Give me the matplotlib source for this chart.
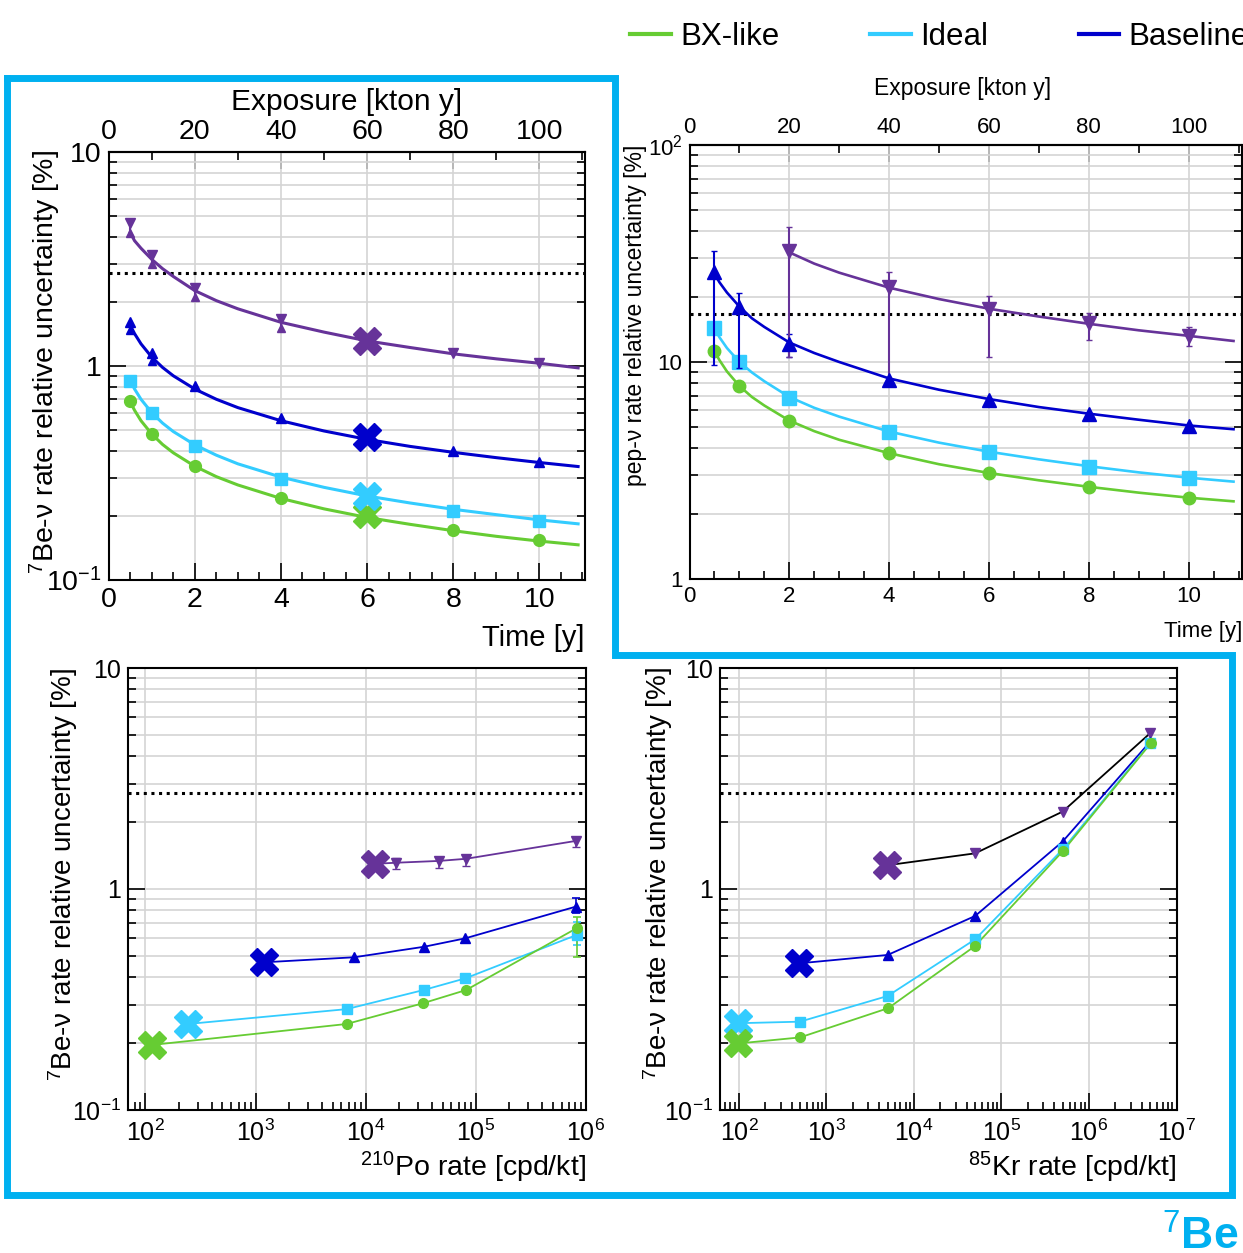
import matplotlib
matplotlib.use('Agg')
import matplotlib.pyplot as plt
from matplotlib.lines import Line2D
from matplotlib.ticker import (FixedLocator, FixedFormatter, MultipleLocator,
                               LogLocator, NullFormatter)
import numpy as np

plt.rcParams['font.family'] = ['Liberation Sans', 'DejaVu Sans']
plt.rcParams['mathtext.fontset'] = 'custom'
plt.rcParams['mathtext.rm'] = 'Liberation Sans'
plt.rcParams['mathtext.it'] = 'Liberation Sans:italic'
plt.rcParams['mathtext.bf'] = 'Liberation Sans:bold'

W, H = 1243, 1253
GREEN = '#66cc33'
CYAN = '#33ccff'
BLUE = '#0000cc'
PURPLE = '#663399'
FRAME = '#00b0f0'
GRID = '#d4d4d4'

# ---------------- 7Be vs time ----------------
t_curve = [0.5, 0.6, 0.75, 1, 1.25, 1.5, 2, 2.5, 3, 4, 5, 6, 7, 8, 9, 10, 10.9]
be_green_curve = [0.680, 0.621, 0.555, 0.481, 0.430, 0.393, 0.340, 0.304, 0.278,
                  0.2405, 0.215, 0.196, 0.182, 0.170, 0.160, 0.152, 0.146]
be_cyan_curve = [0.856, 0.781, 0.699, 0.605, 0.541, 0.494, 0.428, 0.383, 0.349,
                 0.3025, 0.271, 0.247, 0.229, 0.214, 0.202, 0.191, 0.183]
be_blue_curve = [1.552, 1.417, 1.269, 1.10, 0.985, 0.90, 0.78, 0.699, 0.639,
                 0.555, 0.497, 0.454, 0.421, 0.395, 0.373, 0.354, 0.339]
be_purple_curve = [4.2, 3.85, 3.55, 3.15, 2.85, 2.62, 2.25, 2.02, 1.85,
                   1.60, 1.44, 1.31, 1.22, 1.14, 1.08, 1.03, 0.98]

t_pts = [0.5, 1, 2, 4, 8, 10]
be_green = [0.689, 0.481, 0.342, 0.242, 0.171, 0.154]
be_cyan = [0.854, 0.605, 0.425, 0.297, 0.211, 0.189]
be_blue = [1.61, 1.15, 0.807, 0.570, 0.401, 0.355]
be_blue_lo = [1.47, 1.05]
be_purple = [4.66, 3.30, 2.31, 1.66, 1.15, 1.03]
be_purple_lo = [4.18, 3.0, 2.10, 1.5]

t_star = 6
be_star = {'green': 0.203, 'cyan': 0.247, 'blue': 0.467, 'purple': 1.31}
be_limit = 2.72

# ---------------- pep vs time ----------------
pep_green_curve = [11.2, 10.2, 9.05, 7.75, 6.9, 6.3, 5.37, 4.8, 4.38, 3.8, 3.38,
                   3.08, 2.85, 2.66, 2.5, 2.37, 2.28]
pep_cyan_curve = [14.3, 13.0, 11.6, 10.0, 8.95, 8.15, 6.9, 6.15, 5.6, 4.78, 4.25,
                  3.86, 3.56, 3.31, 3.1, 2.93, 2.81]
pep_blue_curve = [25.5, 23.3, 20.9, 18.0, 15.9, 14.5, 12.3, 11.0, 10.0, 8.4, 7.45,
                  6.75, 6.2, 5.78, 5.42, 5.1, 4.9]
t_curve_purple = [2, 2.5, 3, 4, 5, 6, 7, 8, 9, 10, 10.9]
pep_purple_curve = [32.0, 28.4, 25.8, 22.0, 19.5, 17.6, 16.2, 15.0, 14.0, 13.2, 12.5]

t_pep = [0.5, 1, 2, 4, 6, 8, 10]
pep_green = [11.2, 7.73, 5.37, 3.80, 3.08, 2.66, 2.37]
pep_cyan = [14.4, 10.0, 6.82, 4.74, 3.83, 3.28, 2.93]
pep_blue = [25.9, 18.0, 12.1, 8.3, 6.7, 5.75, 5.09]
pep_blue_lo = [9.7, 9.4, 10.6, 8.3, 6.7, 5.75, 5.09]
pep_blue_hi = [32.6, 20.8, 13.5, 8.3, 6.7, 5.75, 5.09]
t_pep_purple = [2, 4, 6, 8, 10]
pep_purple = [32.5, 22.1, 17.5, 15.1, 13.2]
pep_purple_lo = [10.6, 8.3, 10.6, 12.6, 11.8]
pep_purple_hi = [42.0, 25.9, 20.1, 16.9, 14.5]
pep_limit = 16.6

# ---------------- 7Be vs 210Po rate (first point = cross) ----------------
po_green_x = [115, 6700, 33000, 81500, 820000]
po_green_y = [0.197, 0.245, 0.304, 0.349, 0.664]
po_cyan_x = [242, 6700, 33500, 80000, 820000]
po_cyan_y = [0.245, 0.286, 0.349, 0.394, 0.619]
po_blue_x = [1200, 7850, 34000, 80000, 807000]
po_blue_y = [0.466, 0.491, 0.548, 0.598, 0.832]
po_purple_x = [12200, 18900, 46500, 81500, 807000]
po_purple_y = [1.30, 1.315, 1.34, 1.37, 1.65]
po_purple_lo = [1.30, 1.23, 1.25, 1.27, 1.55]
po_purple_hi = [1.30, 1.38, 1.40, 1.42, 1.72]
po_last_err = {'green': (0.494, 0.749), 'cyan': (0.558, 0.711), 'blue': (0.776, 0.908)}

# ---------------- 7Be vs 85Kr rate (first point = cross) ----------------
kr_green_x = [98, 498, 5080, 49800, 508000, 5.07e6]
kr_green_y = [0.20, 0.213, 0.289, 0.552, 1.49, 4.56]
kr_cyan_x = [98, 498, 5000, 5e4, 5e5, 5e6]
kr_cyan_y = [0.247, 0.251, 0.328, 0.592, 1.51, 4.56]
kr_blue_x = [490, 5000, 5e4, 5e5, 5e6]
kr_blue_y = [0.461, 0.503, 0.755, 1.64, 4.64]
kr_purple_x = [4900, 5e4, 5e5, 5e6]
kr_purple_y = [1.28, 1.45, 2.24, 5.07]


def box(l, t, r, b):
    return [l / W, 1 - b / H, (r - l) / W, (b - t) / H]


def log_y(ax, lo, hi, labels, fs):
    ax.set_yscale('log')
    ax.set_ylim(lo, hi)
    ax.yaxis.set_major_locator(FixedLocator([lo, lo * 10, hi]))
    ax.yaxis.set_major_formatter(FixedFormatter(labels))
    ax.yaxis.set_minor_locator(LogLocator(subs=np.arange(2, 10)))
    ax.yaxis.set_minor_formatter(NullFormatter())
    ax.grid(True, which='both', axis='y', color=GRID, lw=1.2, zorder=0)
    ax.grid(True, which='major', axis='x', color=GRID, lw=1.2, zorder=0)
    ax.tick_params(which='both', direction='in', right=True, top=False,
                   labelsize=fs, width=1.2)
    ax.tick_params(which='major', length=12, pad=5)
    ax.tick_params(which='minor', length=6)
    for s in ax.spines.values():
        s.set_linewidth(1.5)
    ax.set_axisbelow(True)


def time_axes(ax, fs):
    ax.set_xlim(0, 11.06)
    ax.xaxis.set_major_locator(MultipleLocator(2))
    ax.xaxis.set_minor_locator(MultipleLocator(0.5))
    sec = ax.secondary_xaxis('top', functions=(lambda t: t * 10, lambda e: e / 10))
    sec.xaxis.set_major_locator(MultipleLocator(20))
    sec.xaxis.set_minor_locator(MultipleLocator(10))
    sec.tick_params(which='both', direction='in', labelsize=fs, width=1.2)
    sec.tick_params(which='major', length=12, pad=5)
    sec.tick_params(which='minor', length=6)
    sec.spines['top'].set_linewidth(1.5)


fig = plt.figure(figsize=(W / 100, H / 100), dpi=100)

# ---- panel 1: 7Be vs time ----
ax1 = fig.add_axes(box(108.7, 152, 585, 580))
log_y(ax1, 0.1, 10, [r'$10^{-1}$', '1', '10'], 20.5)
time_axes(ax1, 20.5)
ax1.axhline(be_limit, color='black', ls=(0, (1, 1.5)), lw=2.2, zorder=2)
for curve, pts, col, mk, ms, key in [
        (be_green_curve, be_green, GREEN, 'o', 8.5, 'green'),
        (be_cyan_curve, be_cyan, CYAN, 's', 9, 'cyan'),
        (be_blue_curve, be_blue, BLUE, '^', 7.5, 'blue'),
        (be_purple_curve, be_purple, PURPLE, 'v', 7.5, 'purple')]:
    ax1.plot(t_curve, curve, color=col, lw=2.2, zorder=3)
    ax1.plot(t_pts, pts, ls='none', marker=mk, ms=ms, color=col, zorder=4)
    ax1.plot([t_star], [be_star[key]], ls='none', marker='X', ms=20, color=col,
             mec=col, zorder=5)
n = len(be_blue_lo)
ax1.vlines(t_pts[:n], be_blue_lo, be_blue[:n], color=BLUE, lw=1.5, zorder=4)
ax1.plot(t_pts[:n], be_blue_lo, ls='none', marker='^', ms=6, color=BLUE, zorder=4)
n = len(be_purple_lo)
ax1.vlines(t_pts[:n], be_purple_lo, be_purple[:n], color=PURPLE, lw=1.5, zorder=4)
ax1.plot(t_pts[:n], be_purple_lo, ls='none', marker='^', ms=6, color=PURPLE, zorder=4)

# ---- panel 2: pep vs time ----
ax2 = fig.add_axes(box(689.5, 145, 1241.5, 579))
log_y(ax2, 1, 100, ['1', '10', r'$10^{2}$'], 16)
time_axes(ax2, 16)
ax2.axhline(pep_limit, color='black', ls=(0, (1, 1.5)), lw=2.2, zorder=2)
ax2.plot(t_curve, pep_green_curve, color=GREEN, lw=1.9, zorder=3)
ax2.plot(t_curve, pep_cyan_curve, color=CYAN, lw=1.9, zorder=3)
ax2.plot(t_curve, pep_blue_curve, color=BLUE, lw=1.9, zorder=3)
ax2.plot(t_curve_purple, pep_purple_curve, color=PURPLE, lw=1.9, zorder=3)
ax2.plot(t_pep, pep_green, ls='none', marker='o', ms=9, color=GREEN, zorder=4)
ax2.plot(t_pep, pep_cyan, ls='none', marker='s', ms=10, color=CYAN, zorder=4)
ax2.errorbar(t_pep, pep_blue,
             yerr=[np.subtract(pep_blue, pep_blue_lo), np.subtract(pep_blue_hi, pep_blue)],
             ls='none', marker='^', ms=10, color=BLUE, elinewidth=1.5, capsize=2.5,
             zorder=4)
ax2.errorbar(t_pep_purple, pep_purple,
             yerr=[np.subtract(pep_purple, pep_purple_lo),
                   np.subtract(pep_purple_hi, pep_purple)],
             ls='none', marker='v', ms=10, color=PURPLE, elinewidth=1.5, capsize=2.5,
             zorder=4)


# ---- panels 3, 4: 7Be vs background rate ----
def rate_axes(ax, xlo, xhi):
    ax.set_xscale('log')
    ax.set_xlim(xlo, xhi)
    ax.xaxis.set_major_locator(LogLocator(numticks=20))
    ax.xaxis.set_minor_locator(LogLocator(subs=np.arange(2, 10), numticks=20))
    ax.xaxis.set_minor_formatter(NullFormatter())
    log_y(ax, 0.1, 10, [r'$10^{-1}$', '1', '10'], 18)
    ax.tick_params(axis='x', which='major', pad=7)
    ax.axhline(be_limit, color='black', ls=(0, (1, 1.5)), lw=2.2, zorder=2)


def rate_series(ax, x, y, col, mk, line_col=None):
    ax.plot(x, y, color=line_col or col, lw=1.3, zorder=3)
    ax.plot(x[1:], y[1:], ls='none', marker=mk, ms=7, color=col, zorder=4)
    ax.plot(x[:1], y[:1], ls='none', marker='X', ms=20, color=col, zorder=5)


ax3 = fig.add_axes(box(127.7, 668, 586, 1110))
rate_axes(ax3, 69, 1e6)
ax3.errorbar(po_purple_x[1:], po_purple_y[1:],
             yerr=[np.subtract(po_purple_y, po_purple_lo)[1:],
                   np.subtract(po_purple_hi, po_purple_y)[1:]],
             ls='none', color=PURPLE, elinewidth=1.2, capsize=3, zorder=3)
for key, xs, ys, col in [('blue', po_blue_x, po_blue_y, BLUE),
                         ('cyan', po_cyan_x, po_cyan_y, CYAN),
                         ('green', po_green_x, po_green_y, GREEN)]:
    lo, hi = po_last_err[key]
    ax3.vlines(xs[-1], lo, hi, color=col, lw=1.2, zorder=3)
    ax3.plot([xs[-1], xs[-1]], [lo, hi], ls='none', marker='_', ms=6, mew=1.2,
             color=col, zorder=3)
rate_series(ax3, po_purple_x, po_purple_y, PURPLE, 'v')
rate_series(ax3, po_blue_x, po_blue_y, BLUE, '^')
rate_series(ax3, po_cyan_x, po_cyan_y, CYAN, 's')
rate_series(ax3, po_green_x, po_green_y, GREEN, 'o')

ax4 = fig.add_axes(box(720, 668, 1176.5, 1110))
rate_axes(ax4, 60.7, 1e7)
rate_series(ax4, kr_purple_x, kr_purple_y, PURPLE, 'v', line_col='black')
rate_series(ax4, kr_blue_x, kr_blue_y, BLUE, '^')
rate_series(ax4, kr_cyan_x, kr_cyan_y, CYAN, 's')
rate_series(ax4, kr_green_x, kr_green_y, GREEN, 'o')

# ---- overlay in pixel coordinates: labels, frame, legend ----
ov = fig.add_axes([0, 0, 1, 1], zorder=10)
ov.set_xlim(0, W)
ov.set_ylim(H, 0)
ov.axis('off')
ov.patch.set_alpha(0)

be_label = r'$^{7}$Be-ν rate relative uncertainty [%]'
ov.text(347, 102, 'Exposure [kton y]', fontsize=21.5, ha='center', va='center')
ov.text(585, 638, 'Time [y]', fontsize=21, ha='right', va='center')
ov.text(45, 150, be_label, fontsize=20.5, rotation=90, rotation_mode='anchor',
        ha='right', va='center')
ov.text(963, 88, 'Exposure [kton y]', fontsize=16.5, ha='center', va='center')
ov.text(1242, 632, 'Time [y]', fontsize=16, ha='right', va='center')
ov.text(636, 145, 'pep-ν rate relative uncertainty [%]', fontsize=16.5, rotation=90,
        rotation_mode='anchor', ha='right', va='center')
ov.text(63, 668, be_label, fontsize=20, rotation=90, rotation_mode='anchor',
        ha='right', va='center')
ov.text(586, 1167, r'$^{210}$Po rate [cpd/kt]', fontsize=20.5, ha='right', va='center')
ov.text(658, 667, be_label, fontsize=20, rotation=90, rotation_mode='anchor',
        ha='right', va='center')
ov.text(1176, 1167, r'$^{85}$Kr rate [cpd/kt]', fontsize=20.5, ha='right', va='center')
ov.text(1162, 1250, r'$^{7}$Be', fontsize=32, fontweight='bold', color=FRAME,
        ha='left', va='baseline')

ov.plot([7, 615, 615, 1232, 1232, 7, 7], [78, 78, 655, 655, 1195, 1195, 78],
        color=FRAME, lw=5, solid_joinstyle='miter', solid_capstyle='projecting')

handles = [Line2D([], [], color=GREEN, lw=3),
           Line2D([], [], color=CYAN, lw=3),
           Line2D([], [], color=BLUE, lw=3)]
fig.legend(handles, ['BX-like', 'Ideal', 'Baseline'], loc='center left',
           bbox_to_anchor=(630 / W, 1 - 37 / H), ncol=3, frameon=False,
           fontsize=22.5, handlelength=1.3, handletextpad=0.3, columnspacing=2.9,
           borderpad=0, borderaxespad=0)

fig.savefig('out.png', dpi=100)
